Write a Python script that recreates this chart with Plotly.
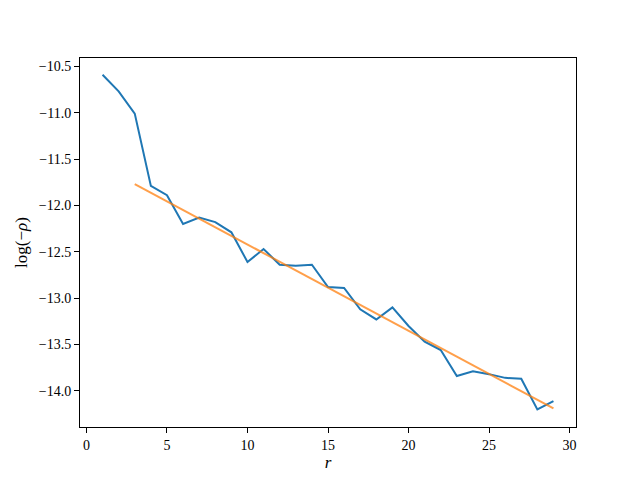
import plotly.graph_objects as go

# ── Data ───────────────────────────────────────────────────────────────────────
r_vals = list(range(1, 30))
log_rho = [-10.59, -10.77, -11.01, -11.79, -11.89, -12.20, -12.13, -12.18, -12.29,
           -12.61, -12.47, -12.64, -12.65, -12.64, -12.88, -12.89, -13.12, -13.23,
           -13.10, -13.30, -13.47, -13.56, -13.84, -13.79, -13.82, -13.86, -13.87,
           -14.20, -14.11]

fit_r = [3, 29]
fit_log_rho = [-11.77, -14.19]

x_ticks = [0, 5, 10, 15, 20, 25, 30]
y_ticks = [-14.0, -13.5, -13.0, -12.5, -12.0, -11.5, -11.0, -10.5]

# ── Figure ─────────────────────────────────────────────────────────────────────
fig = go.Figure()
fig.add_trace(go.Scatter(
    x=r_vals, y=log_rho, mode='lines',
    line=dict(color='#1f77b4', width=2)
))
fig.add_trace(go.Scatter(
    x=fit_r, y=fit_log_rho, mode='lines',
    line=dict(color='rgba(255,127,14,0.75)', width=2)
))

axis_style = dict(
    showline=True, linecolor='black', linewidth=1, mirror=True,
    ticks='outside', ticklen=5, tickwidth=1, tickcolor='black',
    showgrid=False, zeroline=False,
)

# page body has an 8px margin, so margins are shifted to land the axes
# where the reference puts them
fig.update_layout(
    width=640, height=480,
    showlegend=False,
    paper_bgcolor='white', plot_bgcolor='white',
    font=dict(family='Liberation Serif', size=14, color='black'),
    margin=dict(l=72, r=72, t=50, b=61),
    xaxis=dict(range=[-0.4, 30.4], tickvals=x_ticks,
               ticktext=[str(t) for t in x_ticks],
               title=dict(text='<i>r</i>', standoff=2), **axis_style),
    yaxis=dict(range=[-14.39, -10.41], tickvals=y_ticks,
               ticktext=[f'−{abs(t):.1f}' for t in y_ticks],
               title=dict(text='log(−<i>ρ</i>)', standoff=6), **axis_style),
)

fig.write_html("out.html")
